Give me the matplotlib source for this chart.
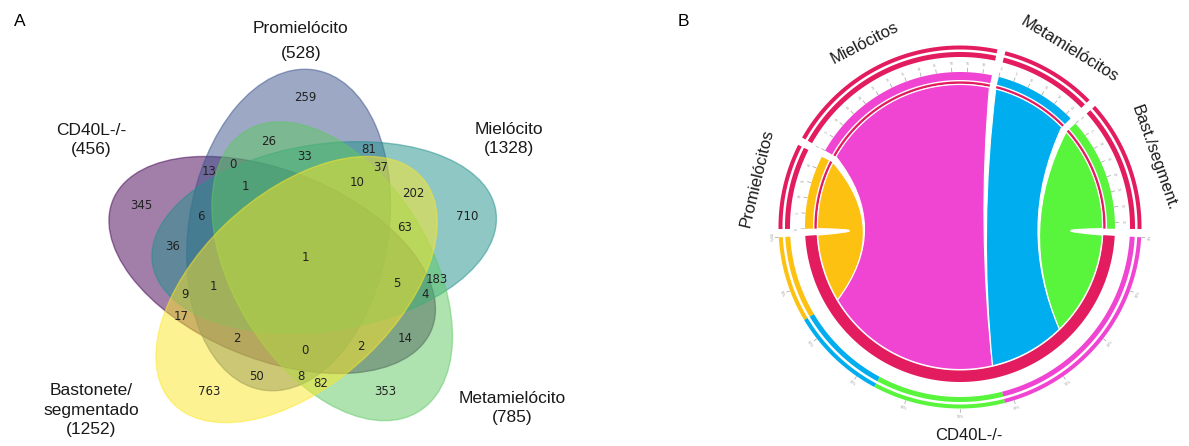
import numpy as np
import matplotlib.pyplot as plt
from matplotlib.patches import Ellipse, Polygon, PathPatch
from matplotlib.path import Path

plt.rcParams['font.family'] = ['Liberation Sans', 'DejaVu Sans']

# ---- dados do diagrama de Venn (A) ----
venn_names = ['CD40L-/-', 'Promielócito', 'Mielócito', 'Metamielócito', 'Bastonete/\nsegmentado']
venn_totals = [456, 528, 1328, 785, 1252]
region_codes = ['10000', '01000', '00100', '00010', '00001',
                '11000', '10100', '10010', '10001', '01100',
                '01010', '01001', '00110', '00101', '00011',
                '11100', '11010', '11001', '10110', '10101',
                '10011', '01110', '01101', '01011', '00111',
                '11110', '11101', '11011', '10111', '01111', '11111']
region_counts = [345, 259, 710, 353, 763,
                 13, 36, 14, 17, 81,
                 26, 50, 183, 202, 82,
                 6, 0, 2, 4, 9,
                 2, 33, 37, 8, 63,
                 1, 1, 0, 5, 10, 1]

# ---- dados do diagrama de cordas (B) ----
chord_names = ['Promielócitos', 'Mielócitos', 'Metamielócitos', 'Bast./segment.']
chord_colors = ['#fdc112', '#f044d2', '#00adef', '#58f53c']
hub_name = 'CD40L-/-'
hub_color = '#e31c5f'
# genes partilhados entre CD40L-/- e cada estágio (somados das regiões do Venn)
chord_values = [sum(c for code, c in zip(region_codes, region_counts)
                    if code[0] == '1' and code[i] == '1') for i in range(1, 5)]

W, H = 1189, 446
fig = plt.figure(figsize=(W / 100, H / 100), dpi=100)
ax = fig.add_axes([0, 0, 1, 1])
ax.set_xlim(0, W)
ax.set_ylim(H, 0)
ax.axis('off')

# ================= A: Venn de 5 conjuntos =================
axv = fig.add_axes([101 / W, (H - 432) / H, 400 / W, 372 / H])
axv.set_xlim(0, 1)
axv.set_ylim(0, 1)
axv.axis('off')

ell_geo = [(0.428, 0.449, 155.0), (0.469, 0.543, 82.0), (0.558, 0.523, 10.0),
           (0.578, 0.432, 118.0), (0.489, 0.383, 46.0)]
ell_cols = plt.cm.viridis(np.linspace(0, 1, 5))
for (ex, ey, ang), c in zip(ell_geo, ell_cols):
    axv.add_patch(Ellipse((ex, ey), 0.87, 0.50, angle=ang,
                          facecolor=(*c[:3], 0.5), edgecolor=(*c[:3], 0.5), lw=1))

label_xy = {'00001': (0.27, 0.11), '00010': (0.71, 0.11), '00011': (0.55, 0.13),
            '00100': (0.915, 0.58), '00101': (0.78, 0.64), '00110': (0.84, 0.41),
            '00111': (0.76, 0.55), '01000': (0.51, 0.90), '01001': (0.39, 0.15),
            '01010': (0.42, 0.78), '01011': (0.50, 0.15), '01100': (0.67, 0.76),
            '01101': (0.70, 0.71), '01110': (0.51, 0.74), '01111': (0.64, 0.67),
            '10000': (0.10, 0.61), '10001': (0.20, 0.31), '10010': (0.76, 0.25),
            '10011': (0.65, 0.23), '10100': (0.18, 0.50), '10101': (0.21, 0.37),
            '10110': (0.81, 0.37), '10111': (0.74, 0.40), '11000': (0.27, 0.70),
            '11001': (0.34, 0.25), '11010': (0.33, 0.72), '11011': (0.51, 0.22),
            '11100': (0.25, 0.58), '11101': (0.28, 0.39), '11110': (0.36, 0.66),
            '11111': (0.51, 0.47)}
for code, n in zip(region_codes, region_counts):
    axv.text(*label_xy[code], str(n), ha='center', va='center',
             fontsize=8.5, color='#222222', family='DejaVu Sans')

name_pos = [(91, 140, 1.33), (301, 41, 1.8), (509, 139, 1.35), (512, 408, 1.35), (91, 410, 1.35)]
for name, tot, (px, py, ls) in zip(venn_names, venn_totals, name_pos):
    ax.text(px, py, f'{name}\n({tot})', ha='center', va='center',
            fontsize=12.5, linespacing=ls, color='#1a1a1a')

ax.text(20, 21, 'A', ha='center', va='center', fontsize=12.5)
ax.text(683, 21, 'B', ha='center', va='center', fontsize=12.5)

# ================= B: diagrama de cordas =================
cx, cy = 960, 227


def xy(r, a):
    t = np.radians(a)
    return cx + r * np.cos(t), cy - r * np.sin(t)


def band(a1, a2, r1, r2, color, z=2):
    t = np.linspace(a1, a2, max(int(abs(a2 - a1) * 2), 8))
    pts = [xy(r2, a) for a in t] + [xy(r1, a) for a in t[::-1]]
    ax.add_patch(Polygon(pts, closed=True, facecolor=color, edgecolor='none', zorder=z))


def ribbon(a1, a2, b1, b2, r, color):
    verts, codes = [], []
    for i, a in enumerate(np.linspace(a1, a2, 60)):
        verts.append(xy(r, a))
        codes.append(Path.MOVETO if i == 0 else Path.LINETO)

    def bez(p, q):
        p, q = np.array(p), np.array(q)
        c = np.array([cx, cy]) + 0.55 * ((p + q) / 2 - np.array([cx, cy]))
        verts.extend([tuple(c), tuple(q)])
        codes.extend([Path.CURVE3, Path.CURVE3])

    bez(xy(r, a2), xy(r, b1))
    for a in np.linspace(b1, b2, 60)[1:]:
        verts.append(xy(r, a))
        codes.append(Path.LINETO)
    bez(xy(r, b2), xy(r, a1))
    verts.append(xy(r, a1))
    codes.append(Path.CLOSEPOLY)
    ax.add_patch(PathPatch(Path(verts, codes), facecolor=color, edgecolor='white', lw=0.8, zorder=3))


gap = 2.6
total = sum(chord_values)
dpu = (360 - 5 * gap) / (2 * total)
top_span = total * dpu + 3 * gap
a = 90 + top_span / 2
top_rng = []
for v in chord_values:
    top_rng.append((a - v * dpu, a))
    a -= v * dpu + gap
hub_lo = 90 + top_span / 2 + gap
hub_hi = hub_lo + total * dpu
hub_rng = []
b = hub_lo
for v in chord_values:
    hub_rng.append((b, b + v * dpu))
    b += v * dpu

tick_col = '#a0a0a0'
for (a1, a2), (b1, b2), col, v in zip(top_rng, hub_rng, chord_colors, chord_values):
    ribbon(a1, a2, b1, b2, 142.5, col)
    band(a1, a2, 147, 155, col)
    band(a1, a2, 143.2, 145.6, hub_color)
    band(a1, a2, 170, 175, hub_color)
    band(a1, a2, 177.5, 181.5, hub_color)
    for k in range(0, v + 1, 5):
        ang = a2 - k * dpu
        ax.plot(*zip(xy(155.5, ang), xy(159, ang)), color=tick_col, lw=0.5, zorder=2)
        ax.text(*xy(163, ang), str(k), fontsize=2.5, color=tick_col, ha='center', va='center',
                rotation=ang - 90)

band(hub_lo, hub_hi, 143.5, 155, hub_color)
b = hub_lo
for i in np.argsort(chord_values):
    band(b, b + chord_values[i] * dpu, 170, 175, chord_colors[i])
    band(b, b + chord_values[i] * dpu, 177.5, 181.5, chord_colors[i])
    b += chord_values[i] * dpu
for k in range(11):
    ang = hub_lo + k * (hub_hi - hub_lo) / 10
    ax.plot(*zip(xy(182, ang), xy(185, ang)), color=tick_col, lw=0.5, zorder=2)
    ax.text(*xy(190, ang), f'{100 - 10 * k}%', fontsize=2.5, color=tick_col,
            ha='center', va='center', rotation=ang + 90)

# entalhes brancos nas duas fendas horizontais
for ang, tip in [((top_rng[0][1] + hub_lo) / 2, 113), ((top_rng[-1][0] + hub_hi - 360) / 2, 118)]:
    ax.add_patch(Polygon([xy(160, ang + 1.3), xy(160, ang - 1.3), xy(tip, ang)],
                         closed=True, facecolor='white', edgecolor='none', zorder=4))

lab_ang = [166.5, 117.3, 58.4, 19.5]
lab_r = [209, 207, 208, 206]
for name, ang, r in zip(chord_names, lab_ang, lab_r):
    ax.text(*xy(r, ang), name, fontsize=12, ha='center', va='center',
            rotation=ang - 90, rotation_mode='anchor', color='#1a1a1a')
ax.text(969, 435, hub_name, fontsize=12, ha='center', va='center', color='#1a1a1a')

fig.savefig('out.png', dpi=100)
